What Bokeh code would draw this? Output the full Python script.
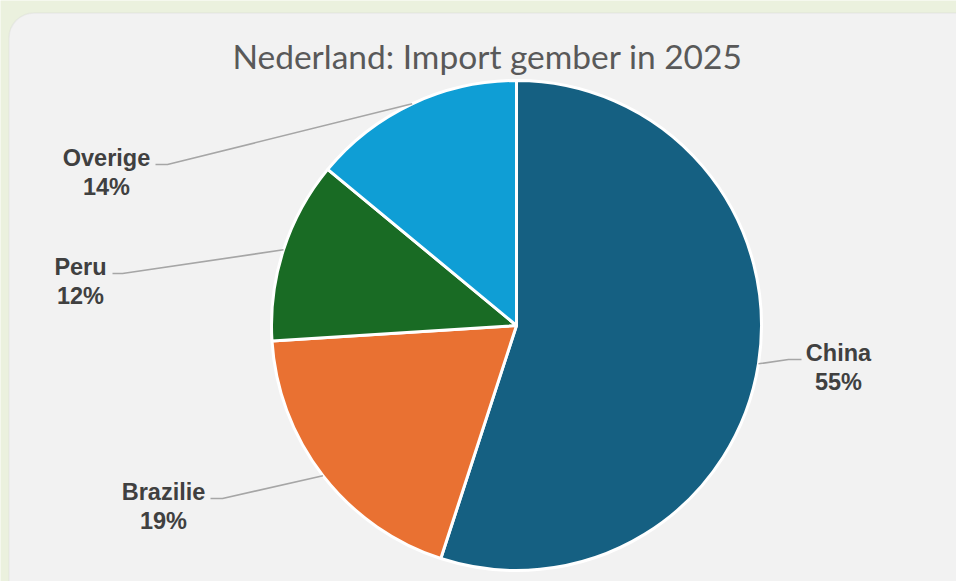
import numpy as np
from bokeh.plotting import figure
from bokeh.models import Range1d, BoxAnnotation, ColumnDataSource
from bokeh.core.properties import value
from bokeh.embed import file_html
from bokeh.resources import INLINE

# ---- data ----
title_text = "Nederland: Import gember in 2025"
categories = ["China", "Brazilie", "Peru", "Overige"]
shares = [55, 19, 12, 14]
colors = ["#156082", "#E97132", "#196B24", "#0F9ED5"]

# ---- layout (page pixels) ----
W, H = 956, 581
PAGE_H = 581


def py(y):
    return PAGE_H - y


CX, CY, R = 516, 325, 245
label_x = [838, 163, 80, 106]
label_base = [359, 498, 273, 164]
elbow_near = [801, 210, 112, 155]
elbow_far = [788, 222, 122, 167]
TEXT_SHIFT = 7

p = figure(width=W, height=H, x_range=Range1d(0, W), y_range=Range1d(0, H),
           output_backend="svg", toolbar_location=None,
           x_axis_location=None, y_axis_location=None, min_border=0)
p.grid.visible = False
p.outline_line_color = None
p.background_fill_color = "#EBF1DE"
p.border_fill_color = "#EBF1DE"

panel = BoxAnnotation(left=8.5, right=985, top=py(12.5), bottom=py(615),
                      fill_color="#F2F2F2", fill_alpha=1.0,
                      line_color="#D5D5D5", line_width=1.5,
                      border_radius=25, level="underlay")
p.add_layout(panel)

total = float(sum(shares))
frac = np.array(shares, dtype=float) / total
cum_end = np.cumsum(frac)
cum_start = cum_end - frac
start_angle = np.pi / 2 - 2 * np.pi * cum_end
end_angle = np.pi / 2 - 2 * np.pi * cum_start

src = ColumnDataSource(dict(cat=categories, share=shares, start=start_angle,
                            end=end_angle, color=colors))
p.wedge(x=CX, y=py(CY), radius=R, start_angle="start", end_angle="end",
        fill_color="color", line_color="white", line_width=3, source=src)

# leader lines
mid = 2 * np.pi * (cum_start + frac / 2)
xs, ys = [], []
for i in range(len(categories)):
    ex = CX + R * np.sin(mid[i])
    ey = py(CY) + R * np.cos(mid[i])
    xs.append([ex, elbow_far[i], elbow_near[i]])
    ys.append([ey, py(label_base[i]), py(label_base[i])])
p.multi_line(xs=xs, ys=ys, line_color="#A6A6A6", line_width=1.6)

pct = [f"{round(v / total * 100):d}%" for v in shares]
lab_src = ColumnDataSource(dict(
    x=label_x,
    y1=[py(b - TEXT_SHIFT) for b in label_base],
    y2=[py(b + 29 - TEXT_SHIFT) for b in label_base],
    name=categories, pct=pct))
common = dict(text_align="center", text_baseline="alphabetic",
              text_font=value("Liberation Sans"), text_font_style="bold",
              text_font_size="23.5px", text_color="#404040", source=lab_src)
p.text(x="x", y="y1", text="name", **common)
p.text(x="x", y="y2", text="pct", **common)

p.text(x=[487], y=[py(55)], text=[title_text], text_align="center",
       text_baseline="alphabetic", text_font=value("Lato"),
       text_font_size="33.5px", text_color="#595959")

open("out.html", "w").write(file_html(p, INLINE))
